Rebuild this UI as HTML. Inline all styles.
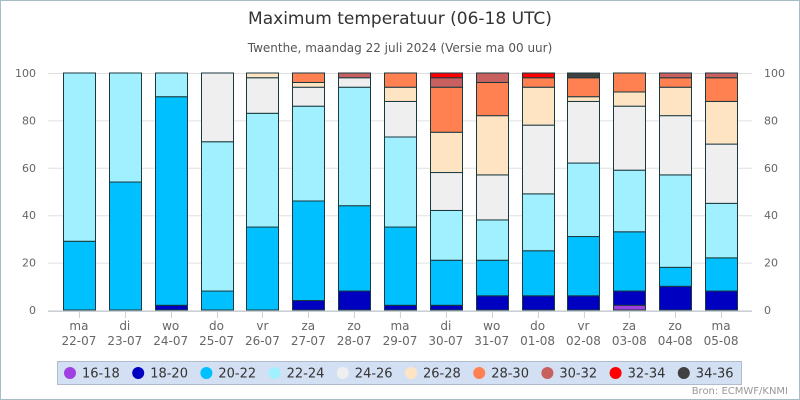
<!DOCTYPE html>
<html><head><meta charset="utf-8"><style>
body{margin:0;background:#fff}
svg{display:block;font-family:"DejaVu Sans","Liberation Sans",sans-serif}
</style></head><body>
<svg id="chart" width="800" height="400">
<rect x="0.5" y="0.5" width="799" height="399" fill="#fff" stroke="#a8bcc8"/>
<text x="400" y="24" text-anchor="middle" font-size="17" fill="#333">Maximum temperatuur (06-18 UTC)</text>
<text x="400" y="52" text-anchor="middle" font-size="12" fill="#555">Twenthe, maandag 22 juli 2024 (Versie ma 00 uur)</text>
<g id="grid"></g><g id="bars"></g><g id="xaxis"></g>
<rect x="57.5" y="361.5" width="684" height="23" fill="#d3e0f3" stroke="#b0bccc"/>
<g id="legend"></g>
<text x="788" y="394" text-anchor="end" font-size="10" fill="#999">Bron: ECMWF/KNMI</text>
</svg>
<script>
const days=["ma","di","wo","do","vr","za","zo","ma","di","wo","do","vr","za","zo","ma"];
const dates=["22-07","23-07","24-07","25-07","26-07","27-07","28-07","29-07","30-07","31-07","01-08","02-08","03-08","04-08","05-08"];
const classes=["16-18","18-20","20-22","22-24","24-26","26-28","28-30","30-32","32-34","34-36"];
const colors=["#a040e0","#0000c0","#00c0ff","#a0f0ff","#efefef","#ffe4c4","#ff8050","#c86060","#ff0000","#404040"];
const yTicks=[0,20,40,60,80,100];
const s1618=[0,0,0,0,0,0,0,0,0,0,0,0,2,0,0];
const s1820=[0,0,2,0,0,4,8,2,2,6,6,6,6,10,8];
const s2022=[29,54,88,8,35,42,36,33,19,15,19,25,25,8,14];
const s2224=[71,46,10,63,48,40,50,38,21,17,24,31,26,39,23];
const s2426=[0,0,0,29,15,8,4,15,16,19,29,26,27,25,25];
const s2628=[0,0,0,0,2,2,0,6,17,25,16,2,6,12,18];
const s2830=[0,0,0,0,0,4,0,6,19,14,4,8,8,4,10];
const s3032=[0,0,0,0,0,0,2,0,4,4,0,0,0,2,2];
const s3234=[0,0,0,0,0,0,0,0,2,0,2,0,0,0,0];
const s3436=[0,0,0,0,0,0,0,0,0,0,0,2,0,0,0];
const series=[s1618,s1820,s2022,s2224,s2426,s2628,s2830,s3032,s3234,s3436];
const NS="http://www.w3.org/2000/svg";
const L=56,R=744,T=73,B=310;
const band=(R-L)/days.length, bw=32;
const y=v=>B-(v/100)*(B-T);
const xc=i=>L+band*(i+0.5);
function mk(t,a,p){const e=document.createElementNS(NS,t);for(const k in a)e.setAttribute(k,a[k]);p.appendChild(e);return e;}
const grid=document.getElementById('grid');
yTicks.forEach(v=>{
 const ln=mk('line',{x1:48,x2:752,y1:y(v)+.5,y2:y(v)+.5,stroke:'#e0e0e0'},grid);
 
 
 const a=mk('text',{x:36,y:y(v)+4,'text-anchor':'end','font-size':11,fill:'#666'},grid);a.textContent=v;
 
 
 const b=mk('text',{x:764,y:y(v)+4,'text-anchor':'start','font-size':11,fill:'#666'},grid);b.textContent=v;
 
 
});
const bars=document.getElementById('bars');
days.forEach((d,i)=>{
 let cum=0;
 series.forEach((s,k)=>{
  const v=s[i]; if(!v) return;
  const r=mk('rect',{x:Math.round(xc(i)-bw/2)+.5,y:y(cum+v),width:bw,height:y(cum)-y(cum+v),fill:colors[k],stroke:'#1a3a40','stroke-width':1},bars);
  
  
  cum+=v;
 });
});
const xa=document.getElementById('xaxis');
const ax=mk('line',{x1:48,x2:752,y1:B+1.5,y2:B+1.5,stroke:'#c8d0d8'},xa);


days.forEach((d,i)=>{
 const cx=Math.round(xc(i)-band/2)+.5;
 const tk=mk('line',{x1:cx+band/2,x2:cx+band/2,y1:B+2,y2:B+8,stroke:'#c8d0d8'},xa);
 
 
 const t=mk('text',{x:xc(i),y:330,'text-anchor':'middle','font-size':12,fill:'#666'},xa);t.textContent=d;
 
 
 const t2=mk('text',{x:xc(i),y:345,'text-anchor':'middle','font-size':12,fill:'#666'},xa);t2.textContent=dates[i];
 
 
});
const lg=document.getElementById('legend');
classes.forEach((c,k)=>{
 const x0=70+k*68.2;
 const ci=mk('circle',{cx:x0,cy:373,r:6,fill:colors[k]},lg);
 
 
 const t=mk('text',{x:x0+12,y:377.5,'font-size':13,fill:'#333'},lg);t.textContent=c;
 
 
});
</script>
</body></html>
